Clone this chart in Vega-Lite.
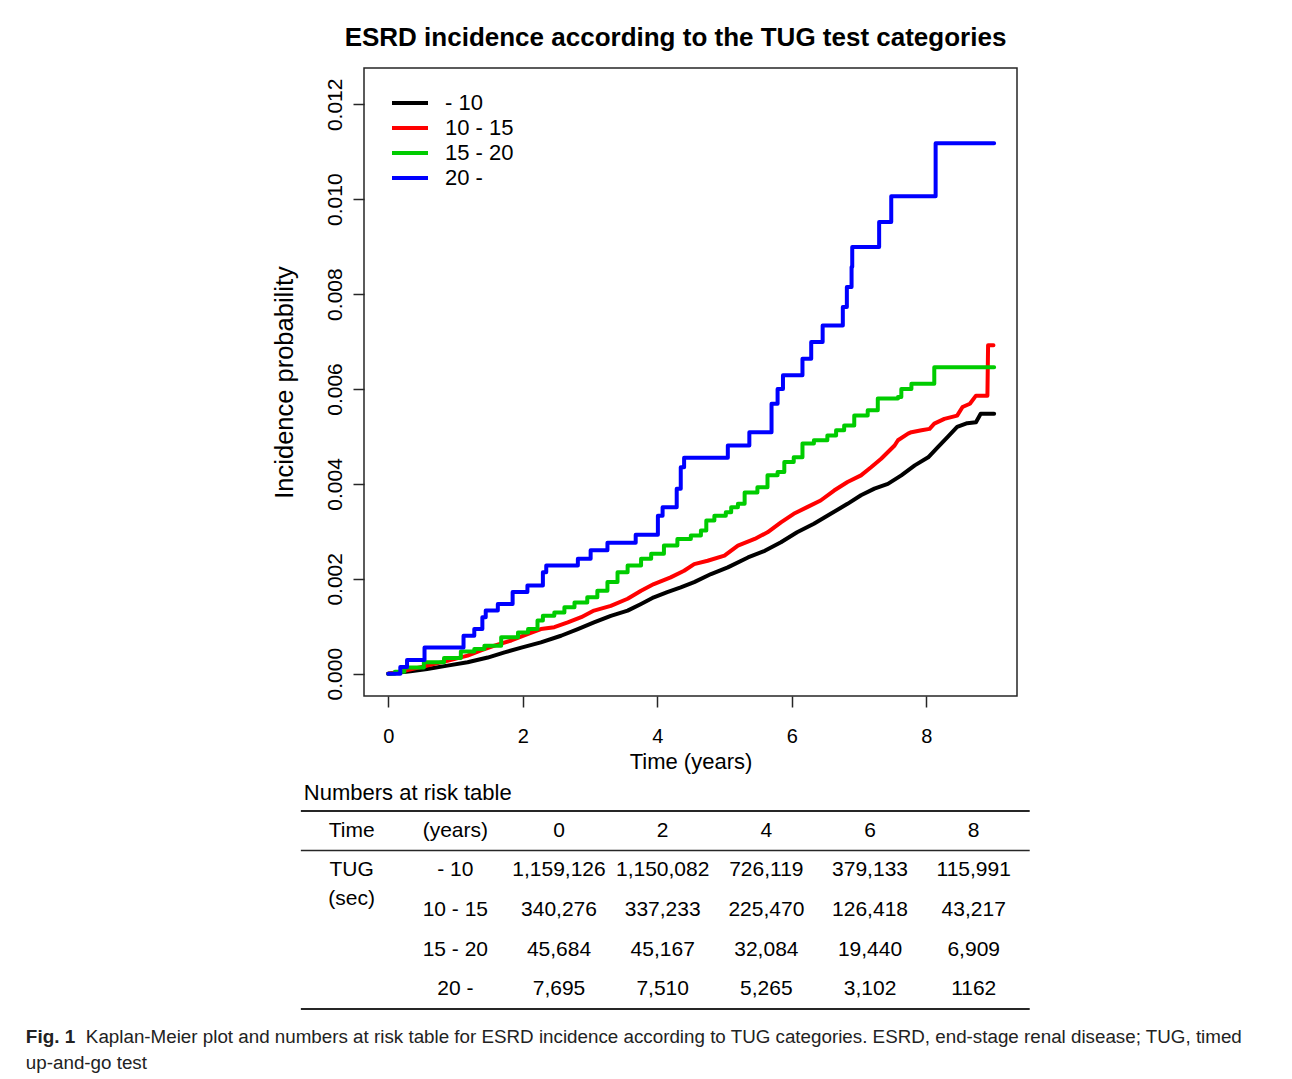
{
  "$schema": "https://vega.github.io/schema/vega-lite/v6.json",
  "background": "white",
  "padding": {"left": 25, "top": 24, "right": 5, "bottom": 2},
  "bounds": "flush",
  "spacing": 115,
  "config": {"font": "Liberation Sans", "view": {"stroke": null}},
  "datasets": {
    "km": [
      {"group": "- 10", "t": 0, "p": 0},
      {"group": "- 10", "t": 0.33, "p": 0.00005},
      {"group": "- 10", "t": 0.58, "p": 0.0001},
      {"group": "- 10", "t": 0.88, "p": 0.00017},
      {"group": "- 10", "t": 1.18, "p": 0.00024},
      {"group": "- 10", "t": 1.48, "p": 0.00034},
      {"group": "- 10", "t": 1.73, "p": 0.00045},
      {"group": "- 10", "t": 1.98, "p": 0.00055},
      {"group": "- 10", "t": 2.27, "p": 0.00066},
      {"group": "- 10", "t": 2.57, "p": 0.0008},
      {"group": "- 10", "t": 2.82, "p": 0.00094},
      {"group": "- 10", "t": 3.06, "p": 0.00108},
      {"group": "- 10", "t": 3.31, "p": 0.00122},
      {"group": "- 10", "t": 3.56, "p": 0.00133},
      {"group": "- 10", "t": 3.76, "p": 0.00147},
      {"group": "- 10", "t": 3.95, "p": 0.00161},
      {"group": "- 10", "t": 4.15, "p": 0.00172},
      {"group": "- 10", "t": 4.35, "p": 0.00182},
      {"group": "- 10", "t": 4.55, "p": 0.00193},
      {"group": "- 10", "t": 4.8, "p": 0.0021},
      {"group": "- 10", "t": 5.05, "p": 0.00224},
      {"group": "- 10", "t": 5.35, "p": 0.00245},
      {"group": "- 10", "t": 5.6, "p": 0.00259},
      {"group": "- 10", "t": 5.84, "p": 0.00277},
      {"group": "- 10", "t": 6.08, "p": 0.00298},
      {"group": "- 10", "t": 6.33, "p": 0.00316},
      {"group": "- 10", "t": 6.58, "p": 0.00337},
      {"group": "- 10", "t": 6.83, "p": 0.00358},
      {"group": "- 10", "t": 7.03, "p": 0.00376},
      {"group": "- 10", "t": 7.23, "p": 0.0039},
      {"group": "- 10", "t": 7.43, "p": 0.004},
      {"group": "- 10", "t": 7.63, "p": 0.00418},
      {"group": "- 10", "t": 7.83, "p": 0.00439},
      {"group": "- 10", "t": 8.03, "p": 0.00456},
      {"group": "- 10", "t": 8.17, "p": 0.00477},
      {"group": "- 10", "t": 8.32, "p": 0.00499},
      {"group": "- 10", "t": 8.46, "p": 0.0052},
      {"group": "- 10", "t": 8.61, "p": 0.00528},
      {"group": "- 10", "t": 8.74, "p": 0.0053},
      {"group": "- 10", "t": 8.81, "p": 0.00548},
      {"group": "- 10", "t": 9.01, "p": 0.00548},
      {"group": "10 - 15", "t": 0, "p": 0},
      {"group": "10 - 15", "t": 0.24, "p": 0.00006},
      {"group": "10 - 15", "t": 0.58, "p": 0.00017},
      {"group": "10 - 15", "t": 0.88, "p": 0.00027},
      {"group": "10 - 15", "t": 1.18, "p": 0.00038},
      {"group": "10 - 15", "t": 1.38, "p": 0.00049},
      {"group": "10 - 15", "t": 1.58, "p": 0.00059},
      {"group": "10 - 15", "t": 1.83, "p": 0.0007},
      {"group": "10 - 15", "t": 2.08, "p": 0.00084},
      {"group": "10 - 15", "t": 2.27, "p": 0.00094},
      {"group": "10 - 15", "t": 2.47, "p": 0.00098},
      {"group": "10 - 15", "t": 2.67, "p": 0.00108},
      {"group": "10 - 15", "t": 2.87, "p": 0.00119},
      {"group": "10 - 15", "t": 3.06, "p": 0.00133},
      {"group": "10 - 15", "t": 3.31, "p": 0.00143},
      {"group": "10 - 15", "t": 3.56, "p": 0.00158},
      {"group": "10 - 15", "t": 3.76, "p": 0.00175},
      {"group": "10 - 15", "t": 3.95, "p": 0.00189},
      {"group": "10 - 15", "t": 4.2, "p": 0.00203},
      {"group": "10 - 15", "t": 4.4, "p": 0.00217},
      {"group": "10 - 15", "t": 4.55, "p": 0.00231},
      {"group": "10 - 15", "t": 4.75, "p": 0.00238},
      {"group": "10 - 15", "t": 5.0, "p": 0.00249},
      {"group": "10 - 15", "t": 5.2, "p": 0.0027},
      {"group": "10 - 15", "t": 5.45, "p": 0.00284},
      {"group": "10 - 15", "t": 5.64, "p": 0.00298},
      {"group": "10 - 15", "t": 5.84, "p": 0.00319},
      {"group": "10 - 15", "t": 6.03, "p": 0.00337},
      {"group": "10 - 15", "t": 6.23, "p": 0.00351},
      {"group": "10 - 15", "t": 6.43, "p": 0.00365},
      {"group": "10 - 15", "t": 6.63, "p": 0.00386},
      {"group": "10 - 15", "t": 6.83, "p": 0.00404},
      {"group": "10 - 15", "t": 7.03, "p": 0.00418},
      {"group": "10 - 15", "t": 7.18, "p": 0.00435},
      {"group": "10 - 15", "t": 7.33, "p": 0.00453},
      {"group": "10 - 15", "t": 7.53, "p": 0.00481},
      {"group": "10 - 15", "t": 7.58, "p": 0.00492},
      {"group": "10 - 15", "t": 7.73, "p": 0.00506},
      {"group": "10 - 15", "t": 7.78, "p": 0.00509},
      {"group": "10 - 15", "t": 7.93, "p": 0.00513},
      {"group": "10 - 15", "t": 8.05, "p": 0.00516},
      {"group": "10 - 15", "t": 8.12, "p": 0.00527},
      {"group": "10 - 15", "t": 8.27, "p": 0.00537},
      {"group": "10 - 15", "t": 8.46, "p": 0.00544},
      {"group": "10 - 15", "t": 8.54, "p": 0.00562},
      {"group": "10 - 15", "t": 8.65, "p": 0.00569},
      {"group": "10 - 15", "t": 8.74, "p": 0.00586},
      {"group": "10 - 15", "t": 8.91, "p": 0.00586},
      {"group": "10 - 15", "t": 8.92, "p": 0.00692},
      {"group": "10 - 15", "t": 9.0, "p": 0.00692},
      {"group": "15 - 20", "t": 0, "p": 0},
      {"group": "15 - 20", "t": 0.1, "p": 0.00004},
      {"group": "15 - 20", "t": 0.24, "p": 0.00013},
      {"group": "15 - 20", "t": 0.53, "p": 0.00024},
      {"group": "15 - 20", "t": 0.83, "p": 0.00033},
      {"group": "15 - 20", "t": 1.08, "p": 0.00047},
      {"group": "15 - 20", "t": 1.28, "p": 0.00052},
      {"group": "15 - 20", "t": 1.43, "p": 0.00059},
      {"group": "15 - 20", "t": 1.68, "p": 0.00077},
      {"group": "15 - 20", "t": 1.93, "p": 0.00087},
      {"group": "15 - 20", "t": 2.08, "p": 0.00094},
      {"group": "15 - 20", "t": 2.22, "p": 0.00112},
      {"group": "15 - 20", "t": 2.3, "p": 0.00122},
      {"group": "15 - 20", "t": 2.47, "p": 0.00129},
      {"group": "15 - 20", "t": 2.62, "p": 0.0014},
      {"group": "15 - 20", "t": 2.77, "p": 0.0015},
      {"group": "15 - 20", "t": 2.96, "p": 0.00161},
      {"group": "15 - 20", "t": 3.11, "p": 0.00175},
      {"group": "15 - 20", "t": 3.26, "p": 0.00193},
      {"group": "15 - 20", "t": 3.41, "p": 0.00214},
      {"group": "15 - 20", "t": 3.56, "p": 0.00228},
      {"group": "15 - 20", "t": 3.76, "p": 0.00242},
      {"group": "15 - 20", "t": 3.91, "p": 0.00253},
      {"group": "15 - 20", "t": 4.1, "p": 0.0027},
      {"group": "15 - 20", "t": 4.3, "p": 0.00284},
      {"group": "15 - 20", "t": 4.5, "p": 0.00291},
      {"group": "15 - 20", "t": 4.65, "p": 0.00302},
      {"group": "15 - 20", "t": 4.73, "p": 0.00323},
      {"group": "15 - 20", "t": 4.85, "p": 0.00333},
      {"group": "15 - 20", "t": 5.02, "p": 0.0034},
      {"group": "15 - 20", "t": 5.1, "p": 0.00351},
      {"group": "15 - 20", "t": 5.2, "p": 0.00358},
      {"group": "15 - 20", "t": 5.3, "p": 0.00382},
      {"group": "15 - 20", "t": 5.49, "p": 0.00393},
      {"group": "15 - 20", "t": 5.64, "p": 0.00418},
      {"group": "15 - 20", "t": 5.79, "p": 0.00425},
      {"group": "15 - 20", "t": 5.89, "p": 0.00446},
      {"group": "15 - 20", "t": 6.03, "p": 0.00456},
      {"group": "15 - 20", "t": 6.16, "p": 0.00485},
      {"group": "15 - 20", "t": 6.33, "p": 0.00492},
      {"group": "15 - 20", "t": 6.53, "p": 0.00502},
      {"group": "15 - 20", "t": 6.66, "p": 0.00513},
      {"group": "15 - 20", "t": 6.78, "p": 0.00523},
      {"group": "15 - 20", "t": 6.93, "p": 0.00544},
      {"group": "15 - 20", "t": 7.13, "p": 0.00555},
      {"group": "15 - 20", "t": 7.28, "p": 0.0058},
      {"group": "15 - 20", "t": 7.58, "p": 0.00583},
      {"group": "15 - 20", "t": 7.63, "p": 0.006},
      {"group": "15 - 20", "t": 7.78, "p": 0.00611},
      {"group": "15 - 20", "t": 8.12, "p": 0.00646},
      {"group": "15 - 20", "t": 9.01, "p": 0.00646},
      {"group": "20 -", "t": 0, "p": 0},
      {"group": "20 -", "t": 0.18, "p": 0.00014},
      {"group": "20 -", "t": 0.28, "p": 0.00029},
      {"group": "20 -", "t": 0.54, "p": 0.00055},
      {"group": "20 -", "t": 1.12, "p": 0.0008},
      {"group": "20 -", "t": 1.28, "p": 0.00094},
      {"group": "20 -", "t": 1.4, "p": 0.00119},
      {"group": "20 -", "t": 1.45, "p": 0.00133},
      {"group": "20 -", "t": 1.63, "p": 0.00147},
      {"group": "20 -", "t": 1.85, "p": 0.00172},
      {"group": "20 -", "t": 2.07, "p": 0.00186},
      {"group": "20 -", "t": 2.3, "p": 0.00214},
      {"group": "20 -", "t": 2.35, "p": 0.00228},
      {"group": "20 -", "t": 2.82, "p": 0.00242},
      {"group": "20 -", "t": 3.01, "p": 0.0026},
      {"group": "20 -", "t": 3.26, "p": 0.00276},
      {"group": "20 -", "t": 3.68, "p": 0.00293},
      {"group": "20 -", "t": 4.01, "p": 0.00333},
      {"group": "20 -", "t": 4.08, "p": 0.00351},
      {"group": "20 -", "t": 4.29, "p": 0.0039},
      {"group": "20 -", "t": 4.35, "p": 0.00435},
      {"group": "20 -", "t": 4.4, "p": 0.00455},
      {"group": "20 -", "t": 5.05, "p": 0.00481},
      {"group": "20 -", "t": 5.37, "p": 0.00509},
      {"group": "20 -", "t": 5.7, "p": 0.00569},
      {"group": "20 -", "t": 5.79, "p": 0.006},
      {"group": "20 -", "t": 5.87, "p": 0.00629},
      {"group": "20 -", "t": 6.16, "p": 0.00664},
      {"group": "20 -", "t": 6.29, "p": 0.00699},
      {"group": "20 -", "t": 6.46, "p": 0.00734},
      {"group": "20 -", "t": 6.76, "p": 0.00773},
      {"group": "20 -", "t": 6.82, "p": 0.00815},
      {"group": "20 -", "t": 6.89, "p": 0.00857},
      {"group": "20 -", "t": 6.9, "p": 0.00899},
      {"group": "20 -", "t": 7.3, "p": 0.00952},
      {"group": "20 -", "t": 7.48, "p": 0.01006},
      {"group": "20 -", "t": 8.14, "p": 0.01118},
      {"group": "20 -", "t": 9.01, "p": 0.01118}
    ],
    "risk": [
      {"group": "- 10", "time": 0, "n": 1159126, "label": "1,159,126"},
      {"group": "- 10", "time": 2, "n": 1150082, "label": "1,150,082"},
      {"group": "- 10", "time": 4, "n": 726119, "label": "726,119"},
      {"group": "- 10", "time": 6, "n": 379133, "label": "379,133"},
      {"group": "- 10", "time": 8, "n": 115991, "label": "115,991"},
      {"group": "10 - 15", "time": 0, "n": 340276, "label": "340,276"},
      {"group": "10 - 15", "time": 2, "n": 337233, "label": "337,233"},
      {"group": "10 - 15", "time": 4, "n": 225470, "label": "225,470"},
      {"group": "10 - 15", "time": 6, "n": 126418, "label": "126,418"},
      {"group": "10 - 15", "time": 8, "n": 43217, "label": "43,217"},
      {"group": "15 - 20", "time": 0, "n": 45684, "label": "45,684"},
      {"group": "15 - 20", "time": 2, "n": 45167, "label": "45,167"},
      {"group": "15 - 20", "time": 4, "n": 32084, "label": "32,084"},
      {"group": "15 - 20", "time": 6, "n": 19440, "label": "19,440"},
      {"group": "15 - 20", "time": 8, "n": 6909, "label": "6,909"},
      {"group": "20 -", "time": 0, "n": 7695, "label": "7,695"},
      {"group": "20 -", "time": 2, "n": 7510, "label": "7,510"},
      {"group": "20 -", "time": 4, "n": 5265, "label": "5,265"},
      {"group": "20 -", "time": 6, "n": 3102, "label": "3,102"},
      {"group": "20 -", "time": 8, "n": 1162, "label": "1162"}
    ]
  },
  "vconcat": [
    {
      "width": 653,
      "height": 628,
      "title": {"text": "ESRD incidence according to the TUG test categories", "fontSize": 26, "fontWeight": "bold", "font": "Liberation Sans", "color": "black", "anchor": "middle", "frame": "group", "offset": 17, "dx": -15},
      "view": {"stroke": "#262626", "strokeWidth": 1.5},
      "data": {"name": "km"},
      "encoding": {
        "x": {"field": "t", "type": "quantitative", "title": "Time (years)",
          "scale": {"domain": [-0.36, 9.35], "nice": false, "zero": false},
          "axis": {"values": [0, 2, 4, 6, 8], "format": "d", "grid": false, "domain": false, "tickSize": 11, "tickWidth": 1.5, "tickColor": "#262626", "labelFontSize": 20, "labelPadding": 19, "labelColor": "black", "labelFont": "Liberation Sans", "labelFlush": false, "titleFont": "Liberation Sans", "titleFontSize": 22, "titleFontWeight": "normal", "titleColor": "black", "titlePadding": 5}},
        "y": {"field": "p", "type": "quantitative", "title": "Incidence probability",
          "scale": {"domain": [-0.00047, 0.012765], "nice": false, "zero": false},
          "axis": {"values": [0, 0.002, 0.004, 0.006, 0.008, 0.01, 0.012], "format": ".3f", "grid": false, "domain": false, "tickSize": 11, "tickWidth": 1.5, "tickColor": "#262626", "labelAngle": 270, "labelAlign": "center", "labelBaseline": "bottom", "labelFontSize": 21, "labelPadding": 8, "labelColor": "black", "labelFont": "Liberation Sans", "labelFlush": false, "titleFont": "Liberation Sans", "titleFontSize": 25.5, "titleFontWeight": "normal", "titleColor": "black", "titlePadding": 27}},
        "color": {"field": "group", "type": "nominal",
          "scale": {"domain": ["- 10", "10 - 15", "15 - 20", "20 -"], "range": ["#000000", "#ff0000", "#00cc00", "#0000ff"]},
          "legend": {"title": null, "orient": "none", "legendX": 32, "legendY": 21, "padding": 0, "symbolType": "M-1.5,0H1.5", "symbolSize": 576, "symbolStrokeWidth": 4, "labelFontSize": 22, "labelOffset": 21, "rowPadding": -1, "labelColor": "black", "labelFont": "Liberation Sans"}}
      },
      "layer": [
        {"transform": [{"filter": "datum.group === '- 10' || datum.group === '10 - 15'"}],
         "mark": {"type": "line", "interpolate": "linear", "strokeWidth": 4, "strokeJoin": "round", "strokeCap": "round"},
         "encoding": {}},
        {"transform": [{"filter": "datum.group === '15 - 20' || datum.group === '20 -'"}],
         "mark": {"type": "line", "interpolate": "step-after", "strokeWidth": 4, "strokeJoin": "round", "strokeCap": "round"},
         "encoding": {}}
      ]
    },
    {
      "width": 653,
      "height": 198,
      "view": {"stroke": null},
      "data": {"name": "risk"},
      "encoding": {
        "x": {"field": "time", "type": "quantitative", "scale": {"domain": [-3.762, 8.835], "nice": false, "zero": false}, "axis": null},
        "y": {"field": "group", "type": "nominal", "scale": {"domain": ["Time (years)", "- 10", "10 - 15", "15 - 20", "20 -"], "paddingInner": 0, "paddingOuter": 0}, "axis": null}
      },
      "layer": [
        {"mark": {"type": "text", "fontSize": 21, "color": "black", "baseline": "middle"},
         "encoding": {"text": {"field": "label"}}},
        {"transform": [{"filter": "datum.group === '- 10'"}],
         "mark": {"type": "text", "fontSize": 21, "color": "black", "baseline": "middle"},
         "encoding": {"y": {"datum": "Time (years)"}, "text": {"field": "time", "type": "quantitative"}}},
        {"transform": [{"filter": "datum.time === 0"}],
         "mark": {"type": "text", "fontSize": 21, "color": "black", "baseline": "middle"},
         "encoding": {"x": {"datum": -2}, "text": {"field": "group"}}},
        {"transform": [{"filter": "datum.group === '- 10' && datum.time === 0"}],
         "mark": {"type": "text", "fontSize": 21, "color": "black", "baseline": "middle"},
         "encoding": {"x": {"datum": -4}, "y": {"datum": "Time (years)"}, "text": {"value": "Time"}}},
        {"transform": [{"filter": "datum.group === '- 10' && datum.time === 0"}],
         "mark": {"type": "text", "fontSize": 21, "color": "black", "baseline": "middle"},
         "encoding": {"x": {"datum": -2}, "y": {"datum": "Time (years)"}, "text": {"value": "(years)"}}},
        {"transform": [{"filter": "datum.group === '- 10' && datum.time === 0"}],
         "mark": {"type": "text", "fontSize": 21, "color": "black", "baseline": "middle"},
         "encoding": {"x": {"datum": -4}, "y": {"datum": "- 10"}, "text": {"value": "TUG"}}},
        {"transform": [{"filter": "datum.group === '- 10' && datum.time === 0"}],
         "mark": {"type": "text", "fontSize": 21, "color": "black", "baseline": "middle", "dy": -11},
         "encoding": {"x": {"datum": -4}, "y": {"datum": "10 - 15"}, "text": {"value": "(sec)"}}},
        {"transform": [{"filter": "datum.group === '- 10' && datum.time === 0"}],
         "mark": {"type": "rule", "strokeWidth": 2, "color": "#262626"},
         "encoding": {"x": {"datum": -4.98}, "x2": {"datum": 9.08}, "y": {"datum": "Time (years)", "bandPosition": 0}}},
        {"transform": [{"filter": "datum.group === '- 10' && datum.time === 0"}],
         "mark": {"type": "rule", "strokeWidth": 1.5, "color": "#262626"},
         "encoding": {"x": {"datum": -4.98}, "x2": {"datum": 9.08}, "y": {"datum": "- 10", "bandPosition": 0}}},
        {"transform": [{"filter": "datum.group === '- 10' && datum.time === 0"}],
         "mark": {"type": "rule", "strokeWidth": 2, "color": "#262626"},
         "encoding": {"x": {"datum": -4.98}, "x2": {"datum": 9.08}, "y": {"datum": "20 -", "bandPosition": 1}}},
        {"transform": [{"filter": "datum.group === '- 10' && datum.time === 0"}],
         "mark": {"type": "text", "fontSize": 22, "color": "black", "baseline": "middle", "align": "left", "dx": 3, "dy": -38},
         "encoding": {"x": {"datum": -4.98}, "y": {"datum": "Time (years)"}, "text": {"value": "Numbers at risk table"}}},
        {"transform": [{"filter": "datum.group === '- 10' && datum.time === 0"}],
         "mark": {"type": "text", "font": "Liberation Sans", "fontWeight": "bold", "fontSize": 18.9, "color": "#222222", "baseline": "middle", "align": "left", "dx": -275, "dy": 48},
         "encoding": {"x": {"datum": -4.98}, "y": {"datum": "20 -"}, "text": {"value": "Fig. 1"}}},
        {"transform": [{"filter": "datum.group === '- 10' && datum.time === 0"}],
         "mark": {"type": "text", "font": "Liberation Sans", "fontSize": 18.8, "color": "#222222", "baseline": "middle", "align": "left", "dx": -215, "dy": 48},
         "encoding": {"x": {"datum": -4.98}, "y": {"datum": "20 -"}, "text": {"value": "Kaplan-Meier plot and numbers at risk table for ESRD incidence according to TUG categories. ESRD, end-stage renal disease; TUG, timed"}}},
        {"transform": [{"filter": "datum.group === '- 10' && datum.time === 0"}],
         "mark": {"type": "text", "font": "Liberation Sans", "fontSize": 18.8, "color": "#222222", "baseline": "middle", "align": "left", "dx": -275, "dy": 74},
         "encoding": {"x": {"datum": -4.98}, "y": {"datum": "20 -"}, "text": {"value": "up-and-go test"}}}
      ]
    }
  ]
}
